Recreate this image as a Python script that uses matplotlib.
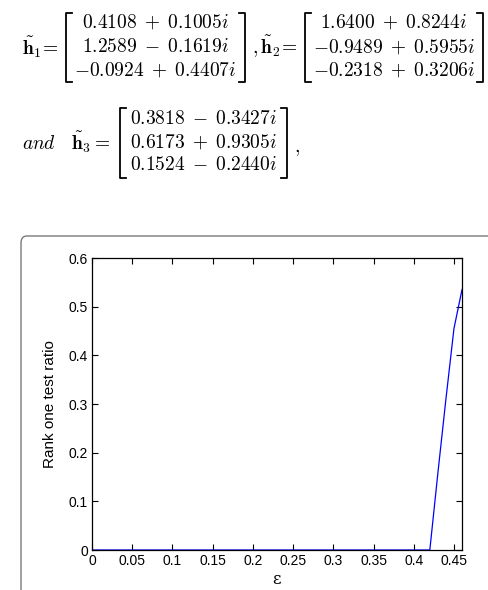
import matplotlib
matplotlib.use('Agg')
import matplotlib.pyplot as plt
from matplotlib.lines import Line2D
from matplotlib.patches import FancyBboxPatch

# channel vectors shown above the plot
h1_rows = ['0.4108 + 0.1005i', '1.2589 - 0.1619i', '-0.0924 + 0.4407i']
h2_rows = ['1.6400 + 0.8244i', '-0.9489 + 0.5955i', '-0.2318 + 0.3206i']
h3_rows = ['0.3818 - 0.3427i', '0.6173 + 0.9305i', '0.1524 - 0.2440i']

# rank one test ratio versus epsilon
eps = [0.00, 0.05, 0.10, 0.15, 0.20, 0.25, 0.30, 0.35, 0.40, 0.42,
       0.43, 0.44, 0.45, 0.46]
ratio = [0.0, 0.0, 0.0, 0.0, 0.0, 0.0, 0.0, 0.0, 0.0, 0.0,
         0.158, 0.31, 0.455, 0.535]
xticks = [0, 0.05, 0.1, 0.15, 0.2, 0.25, 0.3, 0.35, 0.4, 0.45]
xlabels = ['0', '0.05', '0.1', '0.15', '0.2', '0.25', '0.3', '0.35', '0.4', '0.45']
yticks = [0, 0.1, 0.2, 0.3, 0.4, 0.5, 0.6]
ylabels = ['0', '0.1', '0.2', '0.3', '0.4', '0.5', '0.6']

W, H = 488, 590
plt.rcParams['mathtext.fontset'] = 'cm'


def fx(x):
    return x / W


def fy(y):
    return 1 - y / H


def matrix(fig, rows, left, right, top, bottom, row_y, size=14):
    cx = (left + right) / 2
    for r, y in zip(rows, row_y):
        fig.text(fx(cx), fy(y), '$' + r.replace(' ', r'\;') + '$', ha='center',
                 va='center', fontsize=size)
    for xb, d in ((left, 1), (right, -1)):
        fig.add_artist(Line2D([fx(xb + 6 * d), fx(xb), fx(xb), fx(xb + 6 * d)],
                              [fy(top), fy(top), fy(bottom), fy(bottom)],
                              color='black', lw=1.3))


fig = plt.figure(figsize=(W / 100, H / 100), dpi=100)
fig.patch.set_facecolor('white')

# first line of equations
fig.text(fx(22), fy(47), r'$\tilde{\mathbf{h}}_1\!=$', ha='left', va='center', fontsize=14)
matrix(fig, h1_rows, 66, 245, 13, 82, [22, 47, 70])
fig.text(fx(252), fy(47), r'$,\tilde{\mathbf{h}}_2\!=$', ha='left', va='center', fontsize=14)
matrix(fig, h2_rows, 305, 483, 13, 82, [22, 47, 70])

# second line
fig.text(fx(22), fy(142), r'$\mathit{and}\quad\tilde{\mathbf{h}}_3=$', ha='left',
         va='center', fontsize=14)
matrix(fig, h3_rows, 120, 287, 108, 178, [118, 142, 165])
fig.text(fx(294), fy(148), '$,$', ha='left', va='center', fontsize=14)

# rounded frame around the plot
frame = FancyBboxPatch((fx(21), fy(640)), fx(480), 404 / H,
                       boxstyle='round,pad=0,rounding_size=0.012',
                       transform=fig.transFigure, facecolor='none',
                       edgecolor='#7a7a7a', lw=1.0)
fig.add_artist(frame)

ax = fig.add_axes([fx(92), fy(550), fx(370), 292 / H])
ax.plot(eps, ratio, color='#0000ff', lw=0.9)
ax.set_xlim(0, 0.46)
ax.set_ylim(0, 0.6)
ax.set_xticks(xticks)
ax.set_xticklabels(xlabels)
ax.set_yticks(yticks)
ax.set_yticklabels(ylabels)
ax.tick_params(direction='in', top=True, right=True, length=4, width=0.8,
               labelsize=10, pad=3)
for lab in ax.get_xticklabels() + ax.get_yticklabels():
    lab.set_family('Liberation Sans')
for s in ax.spines.values():
    s.set_linewidth(0.9)
ax.set_ylabel('Rank one test ratio', fontsize=11, family='Liberation Sans', labelpad=8)
ax.set_xlabel('ε', fontsize=12, family='DejaVu Serif', labelpad=2)

fig.savefig('out.png', dpi=100)
